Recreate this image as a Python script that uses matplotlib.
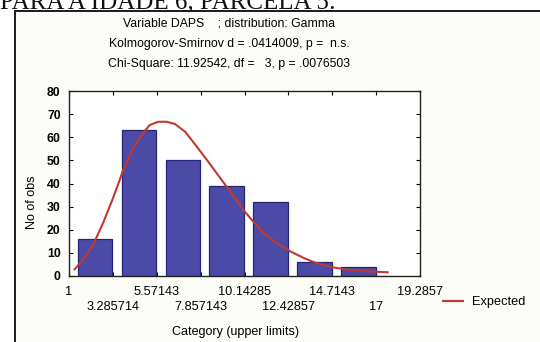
import numpy as np
import matplotlib
matplotlib.rcParams['font.family'] = ['Liberation Sans', 'DejaVu Sans']
import matplotlib.pyplot as plt
from matplotlib.patches import Rectangle

# bin upper limits and observed counts (DAPS, gamma fit)
edges = [1, 3.285714, 5.57143, 7.857143, 10.14285, 12.42857, 14.7143, 17, 19.2857]
edge_labels = ["1", "3.285714", "5.57143", "7.857143", "10.14285",
               "12.42857", "14.7143", "17", "19.2857"]
counts = [16, 63, 50, 39, 32, 6, 4]

# expected gamma curve, sampled points
exp_x = [1.29, 1.72, 2.25, 2.77, 3.29, 3.64, 3.82, 4.34, 4.78, 5.21, 5.65,
         6.09, 6.52, 7.05, 7.66, 8.2, 8.7, 9.14, 9.66, 10.09, 10.53, 11.14,
         11.84, 12.54, 13.23, 13.76, 14.63, 15.51, 16.37, 17.6]
exp_y = [2.9, 6.9, 13.4, 22.8, 33.6, 41.5, 45.8, 55.2, 61.0, 65.3, 66.7,
         66.7, 65.7, 62.4, 55.9, 50.0, 44.4, 39.4, 33.6, 28.5, 24.2, 18.5,
         14.1, 10.6, 7.8, 6.0, 3.9, 2.7, 2.1, 1.6]

W, H = 540, 342
fig = plt.figure(figsize=(W / 100, H / 100), dpi=100)
fig.patch.set_facecolor('white')

# outer panel frame
fig.add_artist(Rectangle((15 / W, -0.1), 1.2, (H - 11) / H + 0.1,
                         transform=fig.transFigure, facecolor='#fcfcf8',
                         edgecolor='#1a1a1a', linewidth=1.4, zorder=0))

# caption above the panel (runs off the top)
fig.text(0 / W, 1 - 8.5 / H, "PARA A IDADE 6, PARCELA 5:", family='Liberation Serif',
         fontsize=18, ha='left', va='baseline', color='#111111')

ax = fig.add_axes([69 / W, 1 - 276 / H, (420 - 69) / W, (276 - 91) / H])
ax.set_facecolor('white')

bw = edges[1] - edges[0]
lefts = [e + 0.2 * bw for e in edges[:len(counts)]]
ax.bar(lefts, counts, width=0.79 * bw, align='edge', color='#4b4aa6',
       edgecolor='#25237a', linewidth=0.9, zorder=2)
line, = ax.plot(exp_x, exp_y, color='#c0392e', linewidth=1.5, zorder=3,
                solid_joinstyle='round', label='Expected')

ax.set_xlim(edges[0], edges[-1])
ax.set_ylim(0, 80)
# alternate edge labels on two rows
ax.set_xticks(edges[0::2])
ax.set_xticklabels(edge_labels[0::2])
ax.set_xticks(edges[1::2], minor=True)
ax.set_xticklabels(edge_labels[1::2], minor=True)
ax.set_yticks(range(0, 81, 10))
ax.tick_params(axis='both', which='both', direction='in', top=True, right=True,
               length=3, width=0.8, labelsize=9.2)
ax.tick_params(axis='x', which='major', pad=7)
ax.tick_params(axis='x', which='minor', pad=18)
ax.tick_params(axis='y', pad=6)
for t in ax.get_yticklabels():
    t.set_fontweight('bold')
    t.set_fontsize(8.8)
for s in ax.spines.values():
    s.set_linewidth(1.0)
    s.set_color('#222222')

fig.text(32 / W, 1 - 202 / H, "No of obs", rotation=90, ha='center', va='center',
         fontsize=9)
fig.text(236 / W, 1 - 332 / H, "Category (upper limits)", ha='center', va='center',
         fontsize=9)

# header lines
hdr = ["Variable DAPS    ; distribution: Gamma",
       "Kolmogorov-Smirnov d = .0414009, p =  n.s.",
       "Chi-Square: 11.92542, df =   3, p = .0076503"]
for i, txt in enumerate(hdr):
    fig.text(229 / W, 1 - (24 + 20 * i) / H, txt, ha='center', va='center',
             fontsize=8.8)

ax.legend(handles=[line], loc='center left', bbox_to_anchor=(443 / W, 1 - 302 / H),
          bbox_transform=fig.transFigure, frameon=False, fontsize=9.2,
          handlelength=1.55, handletextpad=0.75, borderpad=0, borderaxespad=0)

fig.savefig('out.png', dpi=100)
